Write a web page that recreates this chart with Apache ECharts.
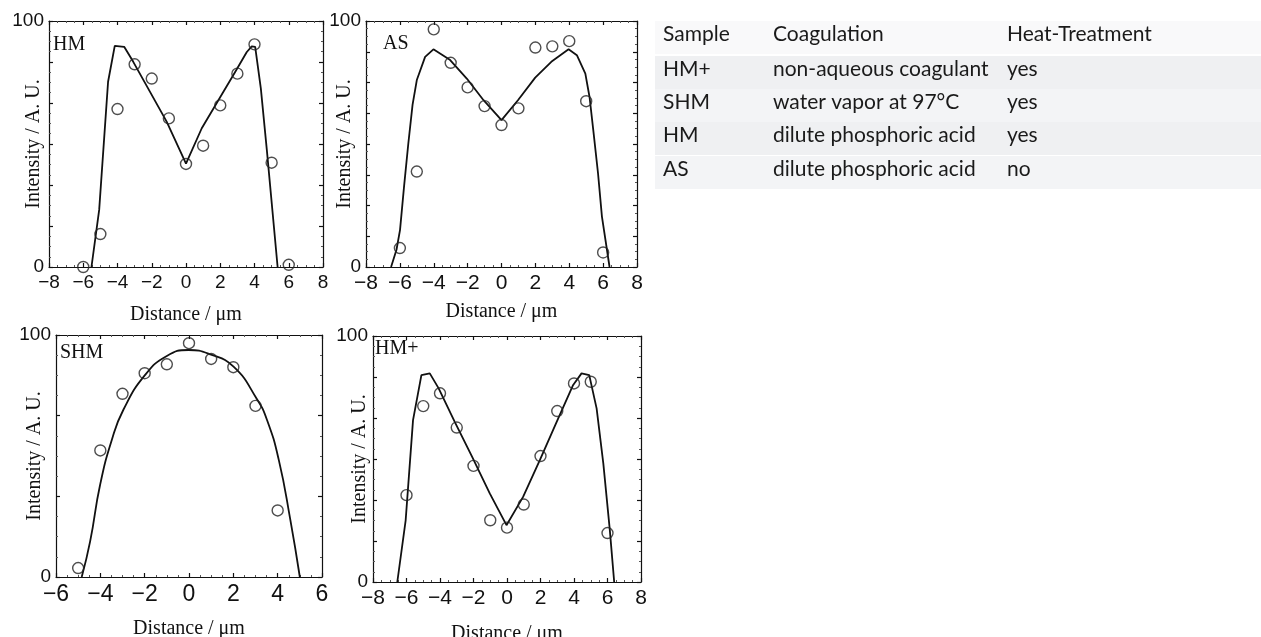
<!DOCTYPE html>
<html>
<head>
<meta charset="utf-8">
<script src="https://cdn.jsdelivr.net/npm/echarts@6/dist/echarts.min.js"></script>
<style>
  body { margin: 0; background: #fff; }
  #main { width: 1261px; height: 637px; }
</style>
</head>
<body>
<div id="main"></div>
<script>
// measured points (circles), x in um, intensity in A.U.
const ptX = [-6, -5, -4, -3, -2, -1, 0, 1, 2, 3, 4, 5, 6];
const hmPts = [0, 13.4, 64.2, 82.4, 76.6, 60.4, 41.9, 49.3, 65.7, 78.6, 90.5, 42.4, 0.9];
const asPts = [7.7, 38.8, 96.6, 83.0, 73.0, 65.4, 57.7, 64.5, 89.2, 89.7, 91.8, 67.4, 5.9];
const hmpPts = [35.3, 71.5, 76.7, 62.8, 47.2, 25.1, 22.1, 31.5, 51.2, 69.5, 80.7, 81.4, 19.9];
const shmX = [-5, -4, -3, -2, -1, 0, 1, 2, 3, 4];
const shmPts = [3.7, 52.3, 75.7, 84.2, 87.9, 96.6, 90.1, 86.7, 70.7, 27.5];

// fitted curves
const hmFitX = [-5.52, -5.07, -4.55, -4.16, -3.61, -3.08, -2.1, -1.13, 0, 0.92, 1.89, 2.87, 3.55, 3.84, 4.04, 4.37, 4.72, 5.35];
const hmFitY = [0, 23.2, 75.3, 89.9, 89.5, 83.4, 71.2, 59.1, 42, 56.4, 67.8, 79.3, 87.4, 89.7, 89.5, 72.6, 47.6, 0];
const asFitX = [-6.52, -6.2, -5.99, -5.75, -5.5, -5.25, -5.0, -4.51, -4.02, -3.03, -2.05, -1.06, 0, 0.97, 1.99, 2.94, 3.96, 4.45, 4.95, 5.2, 5.44, 5.7, 5.93, 6.38];
const asFitY = [0, 7, 15.1, 33, 50.3, 66, 76, 85.4, 88.5, 84.1, 76.6, 67.8, 59.7, 67.8, 77, 83.4, 88.5, 86.1, 78.6, 69, 54.3, 38, 20.5, 0];
const shmFitX = [-4.84, -4.46, -4.01, -3.48, -2.96, -1.98, -1.0, -0.02, 0.96, 2.01, 3.04, 3.52, 4.05, 4.57, 5.0];
const shmFitY = [0, 14.7, 38.1, 56.7, 69.1, 83.5, 91.3, 93.8, 92, 86.9, 73.9, 64.9, 48.4, 23.7, 0];
const hmpFitX = [-6.55, -6.05, -5.61, -5.11, -4.61, -4.08, -3.12, -2.08, -1.03, -0.03, 0.96, 1.96, 2.92, 3.95, 4.45, 4.91, 5.35, 5.75, 6.14, 6.4];
const hmpFitY = [0, 25.1, 65.8, 84.1, 84.8, 78.7, 65.1, 50.9, 36.0, 23.1, 34.6, 49.5, 64.4, 80.1, 84.8, 84.1, 70.6, 48.2, 21, 0];

const tableHead = ['Sample', 'Coagulation', 'Heat-Treatment'];
const tableRows = [
  ['HM+', 'non-aqueous coagulant', 'yes'],
  ['SHM', 'water vapor at 97°C', 'yes'],
  ['HM', 'dilute phosphoric acid', 'yes'],
  ['AS', 'dilute phosphoric acid', 'no']
];

function zip(xs, ys) {
  return xs.map((x, i) => [x, ys[i]]);
}

// panel layout
const panels = [
  {name: 'HM', grid: {left: 49, top: 21, width: 274, height: 246}, xr: [-8, 8], yInt: 100 / 6, fs: 19,
    xGap: 38, yGap: 5, pts: zip(ptX, hmPts), fit: zip(hmFitX, hmFitY), smooth: false, lab: [53, 47]},
  {name: 'AS', grid: {left: 366, top: 21, width: 271, height: 246}, xr: [-8, 8], yInt: 12.5, fs: 21,
    xGap: 35, yGap: 11, pts: zip(ptX, asPts), fit: zip(asFitX, asFitY), smooth: false, lab: [383, 46]},
  {name: 'SHM', grid: {left: 56, top: 335, width: 266, height: 242}, xr: [-6, 6], yInt: 100 / 3, fs: 23,
    xGap: 42, yGap: 11, pts: zip(shmX, shmPts), fit: zip(shmFitX, shmFitY), smooth: true, lab: [60, 355]},
  {name: 'HM+', grid: {left: 373, top: 336, width: 268, height: 246}, xr: [-8, 8], yInt: 100 / 6, fs: 21,
    xGap: 42, yGap: 3, pts: zip(ptX, hmpPts), fit: zip(hmpFitX, hmpFitY), smooth: false, lab: [375, 351]}
];

const ink = '#111';
const grids = [], xAxes = [], yAxes = [], series = [], graphics = [];

panels.forEach((p, i) => {
  grids.push(Object.assign({outerBoundsMode: 'none', containLabel: false}, p.grid));
  const lineStyle = {color: ink, width: 1.2};
  const baseX = {
    type: 'value', gridIndex: i, min: p.xr[0], max: p.xr[1], interval: 2,
    axisLine: {show: true, onZero: false, lineStyle},
    axisTick: {show: true, inside: true, length: 4, lineStyle},
    minorTick: {show: true, splitNumber: 4, length: 2, lineStyle: {color: '#555', width: 1}},
    splitLine: {show: false}
  };
  xAxes.push(Object.assign({}, baseX, {
    position: 'bottom',
    name: 'Distance / μm', nameLocation: 'middle', nameGap: p.xGap, nameMoveOverlap: false,
    nameTextStyle: {fontFamily: 'Liberation Serif', fontSize: 20, color: ink},
    axisLabel: {fontFamily: 'Liberation Sans', fontSize: p.fs, color: ink, margin: 6,
      formatter: v => String(v).replace('-', '−')}
  }));
  xAxes.push(Object.assign({}, baseX, {position: 'top', axisLabel: {show: false}}));
  const baseY = {
    type: 'value', gridIndex: i, min: 0, max: 100, interval: p.yInt,
    axisLine: {show: true, onZero: false, lineStyle},
    axisTick: {show: true, inside: true, length: 4, lineStyle},
    minorTick: {show: true, splitNumber: 4, length: 2, lineStyle: {color: '#555', width: 1}},
    splitLine: {show: false}
  };
  yAxes.push(Object.assign({}, baseY, {
    position: 'left',
    name: 'Intensity / A. U.', nameLocation: 'middle', nameGap: p.yGap, nameMoveOverlap: false,
    nameTextStyle: {fontFamily: 'Liberation Serif', fontSize: 20, color: ink},
    axisLabel: {fontFamily: 'Liberation Sans', fontSize: 19, color: ink, margin: 5,
      formatter: v => v < 0.01 ? '0' : (v > 99.9 ? '100' : '')}
  }));
  yAxes.push(Object.assign({}, baseY, {position: 'right', axisLabel: {show: false}}));

  series.push({
    type: 'line', xAxisIndex: 2 * i, yAxisIndex: 2 * i, data: p.fit,
    smooth: p.smooth, showSymbol: false, symbol: 'none',
    lineStyle: {color: ink, width: 1.8}, z: 2
  });
  series.push({
    type: 'scatter', xAxisIndex: 2 * i, yAxisIndex: 2 * i, data: p.pts,
    symbol: 'circle', symbolSize: 11,
    itemStyle: {color: 'rgba(0,0,0,0)', borderColor: '#222', borderWidth: 1.4}, z: 3
  });

  graphics.push({
    type: 'text', left: p.lab[0], top: p.lab[1] - 12,
    style: {text: p.name, fontFamily: 'Liberation Serif', fontSize: 20, fill: ink}
  });
});

// table
const colX = [663, 773, 1007];
const rowY = [37, 72, 105, 138, 172];
const bands = ['#f9f9fa', '#eff0f2', '#f3f4f6', '#eff0f2', '#f3f4f6'];
rowY.forEach((y, r) => {
  graphics.push({type: 'rect', shape: {x: 655, y: y - 16, width: 606, height: 33},
    style: {fill: bands[r]}, z: -1});
});
[tableHead].concat(tableRows).forEach((row, r) => {
  row.forEach((cell, c) => {
    graphics.push({type: 'text', left: colX[c], top: rowY[r] - 13,
      style: {text: cell, fontFamily: 'Lato', fontSize: 21, fill: '#1a1a1a'}});
  });
});

const chart = echarts.init(document.getElementById('main'));
chart.setOption({
  animation: false,
  grid: grids,
  xAxis: xAxes,
  yAxis: yAxes,
  series: series,
  graphic: graphics
});
</script>
</body>
</html>
